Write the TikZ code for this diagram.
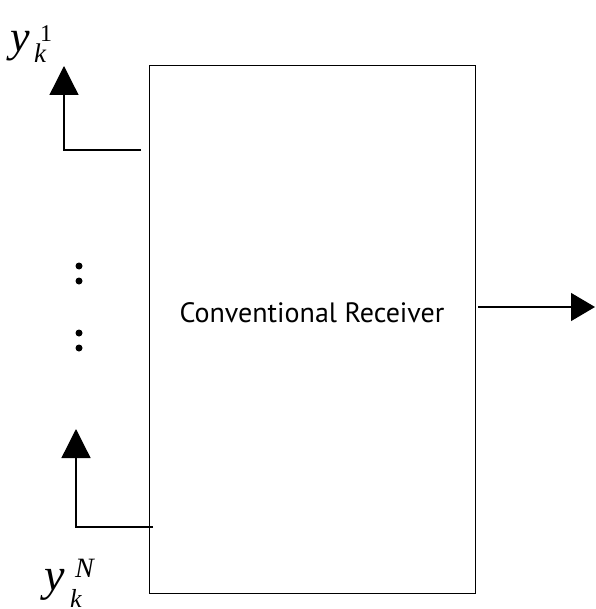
\documentclass[tikz,border=0pt]{standalone}
\usepackage{fontspec}
\setmainfont{Liberation Serif}
\newfontfamily\labsans{PT Sans}
\usetikzlibrary{arrows.meta}
\begin{document}
\begin{tikzpicture}[x=1pt,y=-1pt,
  wire/.style={line width=1.3pt},
  bigtip/.style={-{Triangle[length=29pt,width=29pt]}},
  dotmark/.style={circle,fill=black,inner sep=0pt,minimum size=7pt},
  symtxt/.style={inner sep=0pt,anchor=base west}]
\useasboundingbox (0,0) rectangle (595,609);
\node[draw,line width=1.3pt,minimum width=326pt,minimum height=528pt,inner sep=0pt,anchor=north west] (rx) at (149,65) {};
\node[font=\labsans\fontsize{28}{28}\selectfont,inner sep=0pt,anchor=base] (lab) at (312,322) {Conventional Receiver};
% top output branch
\coordinate (t1) at (141,150);
\coordinate (t2) at (64,150);
\coordinate (t3) at (64,66);
\draw[wire,bigtip] (t1) -- (t2) -- (t3);
% bottom branch
\coordinate (b1) at (153,527);
\coordinate (b2) at (76,527);
\coordinate (b3) at (76,429);
\draw[wire,bigtip] (b1) -- (b2) -- (b3);
% output arrow
\coordinate (o1) at (478,307);
\coordinate (o2) at (595,307);
\draw[wire,-{Triangle[length=24pt,width=28pt]}] (o1) -- (o2);
% dots
\node[dotmark] (d1) at (79,266) {};
\node[dotmark] (d2) at (79,281) {};
\node[dotmark] (d3) at (79,333) {};
\node[dotmark] (d4) at (79,348) {};
% labels
\node[symtxt,font=\fontsize{44}{44}\selectfont\itshape] (y1) at (10,52) {y};
\node[symtxt,font=\fontsize{27}{27}\selectfont\itshape] (k1) at (34,63) {k};
\node[symtxt,font=\fontsize{24}{24}\selectfont] (s1) at (40,42) {1};
\node[symtxt,font=\fontsize{46}{46}\selectfont\itshape] (y2) at (44,590) {y};
\node[symtxt,font=\fontsize{26}{26}\selectfont\itshape] (k2) at (70,607) {k};
\node[symtxt,font=\fontsize{28}{28}\selectfont\itshape] (n2) at (75,577) {N};
\end{tikzpicture}
\end{document}
